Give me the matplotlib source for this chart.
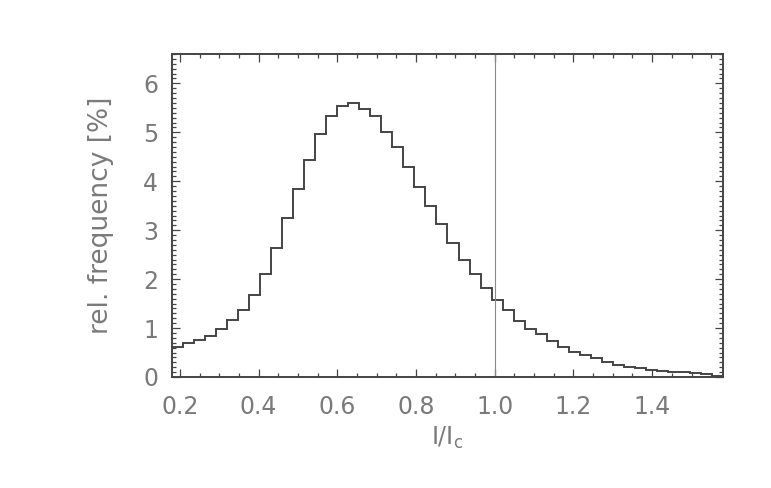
"""Histogram of relative intensity I/I_c (IDL-style plot)"""
import numpy as np
import matplotlib
matplotlib.use('Agg')
import matplotlib.pyplot as plt
from matplotlib.ticker import MultipleLocator

# bins: 50 bins of width 0.028 from 0.18 to 1.58
bin_start = 0.18
bin_width = 0.028
freq = [0.62, 0.70, 0.76, 0.84, 0.98, 1.16, 1.36, 1.68, 2.11, 2.63,
        3.25, 3.84, 4.43, 4.96, 5.33, 5.54, 5.59, 5.48, 5.33, 5.01,
        4.69, 4.29, 3.88, 3.49, 3.12, 2.74, 2.40, 2.10, 1.81, 1.57,
        1.37, 1.15, 0.99, 0.87, 0.73, 0.62, 0.52, 0.45, 0.38, 0.30,
        0.245, 0.21, 0.18, 0.15, 0.13, 0.11, 0.10, 0.08, 0.06, 0.03]
x_ticks = [0.2, 0.4, 0.6, 0.8, 1.0, 1.2, 1.4]
x_ticklabels = ['0.2', '0.4', '0.6', '0.8', '1.0', '1.2', '1.4']
y_ticks = [0, 1, 2, 3, 4, 5, 6]
marker_x = 1.0

edges = bin_start + bin_width * np.arange(len(freq) + 1)

text_col = '#7a7a7a'
line_col = '#444444'

fig = plt.figure(figsize=(7.71, 4.88), dpi=100)
ax = fig.add_axes([172 / 771, 1 - 377 / 488, 551 / 771, 323 / 488])

ax.stairs(freq, edges, color=line_col, linewidth=1.4)
ax.axvline(marker_x, color='#888888', linewidth=0.8)

ax.set_xlim(edges[0], edges[-1])
ax.set_ylim(0, 6.6)

ax.set_xticks(x_ticks)
ax.set_xticklabels(x_ticklabels)
ax.set_yticks(y_ticks)
ax.xaxis.set_minor_locator(MultipleLocator(0.05))
ax.yaxis.set_minor_locator(MultipleLocator(0.1))

ax.tick_params(which='both', direction='in', top=True, right=True,
               color=line_col, width=0.9)
ax.tick_params(which='major', length=6)
ax.tick_params(which='minor', length=3)
ax.tick_params(axis='x', which='major', pad=13, labelsize=17, labelcolor=text_col)
ax.tick_params(axis='y', which='major', pad=10, labelsize=17, labelcolor=text_col)

for s in ax.spines.values():
    s.set_color(line_col)
    s.set_linewidth(1.4)

ax.set_xlabel(r'I/I$_\mathrm{c}$', fontsize=17, color=text_col, labelpad=4)
ax.set_ylabel('rel. frequency [%]', fontsize=19, color=text_col, labelpad=21)

fig.savefig('out.png', dpi=100)
